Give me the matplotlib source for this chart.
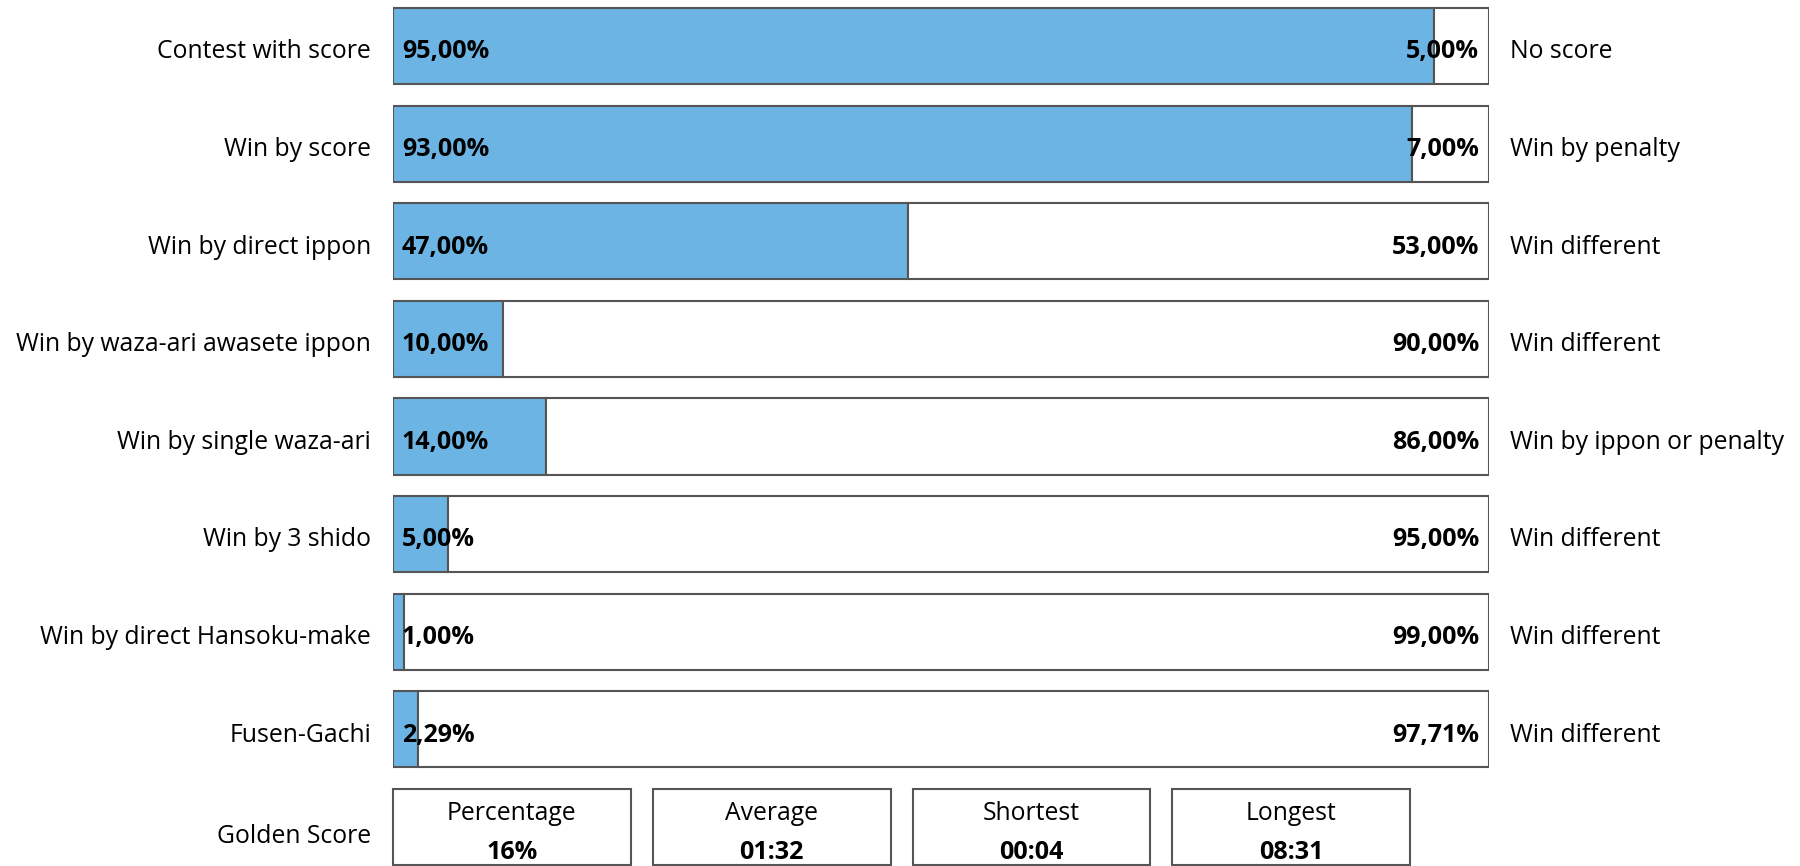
import matplotlib.pyplot as plt
from matplotlib.patches import Rectangle

plt.rcParams['font.family'] = ['Open Sans', 'DejaVu Sans']

left_labels = ["Contest with score", "Win by score", "Win by direct ippon",
               "Win by waza-ari awasete ippon", "Win by single waza-ari",
               "Win by 3 shido", "Win by direct Hansoku-make", "Fusen-Gachi"]
right_labels = ["No score", "Win by penalty", "Win different", "Win different",
                "Win by ippon or penalty", "Win different", "Win different",
                "Win different"]
left_values = [95.0, 93.0, 47.0, 10.0, 14.0, 5.0, 1.0, 2.29]
right_values = [5.0, 7.0, 53.0, 90.0, 86.0, 95.0, 99.0, 97.71]

golden_titles = ["Percentage", "Average", "Shortest", "Longest"]
golden_values = ["16%", "01:32", "00:04", "08:31"]

BLUE = "#6cb4e4"
EDGE = "#555555"
BAR_H = 0.78
FS = 17.8
DY = 0.06  # text sits a touch below the bar centre


def fmt(v):
    return f"{v:.2f}%".replace(".", ",")


fig = plt.figure(figsize=(18, 8.66), dpi=100)
ax = fig.add_axes([393 / 1800, 0, 1096 / 1800, 1])
ax.set_xlim(0, 100)
ax.set_ylim(8.40, -0.471)
ax.axis('off')

rows = range(len(left_labels))

# stacked bars: blue share + white remainder
ax.barh(rows, left_values, height=BAR_H, color=BLUE, edgecolor=EDGE, linewidth=1.5)
ax.barh(rows, right_values, left=left_values, height=BAR_H, color="white",
        edgecolor=EDGE, linewidth=1.5)

for i in rows:
    ax.text(0.8, i + DY, fmt(left_values[i]), ha="left", va="center",
            fontsize=FS + 0.3, fontweight="bold")
    ax.text(99.1, i + DY, fmt(right_values[i]), ha="right", va="center",
            fontsize=FS + 0.3, fontweight="bold")
    ax.text(-2.0, i + DY, left_labels[i], ha="right", va="center", fontsize=FS)
    ax.text(101.9, i + DY, right_labels[i], ha="left", va="center", fontsize=FS)

# golden score boxes
g = len(left_labels)
ax.text(-2.0, g + 0.1, "Golden Score", ha="right", va="center", fontsize=FS)
box_w, pitch = 21.7, 23.7
for k, (title, val) in enumerate(zip(golden_titles, golden_values)):
    x0 = k * pitch
    ax.add_patch(Rectangle((x0, g - BAR_H / 2), box_w, BAR_H, facecolor="white",
                           edgecolor=EDGE, linewidth=1.5, clip_on=False))
    ax.text(x0 + box_w / 2, g - 0.14, title, ha="center", va="center", fontsize=FS)
    ax.text(x0 + box_w / 2, g + 0.26, val, ha="center", va="center",
            fontsize=FS + 0.3, fontweight="bold")

fig.savefig("out.png", dpi=100)
plt.close(fig)
